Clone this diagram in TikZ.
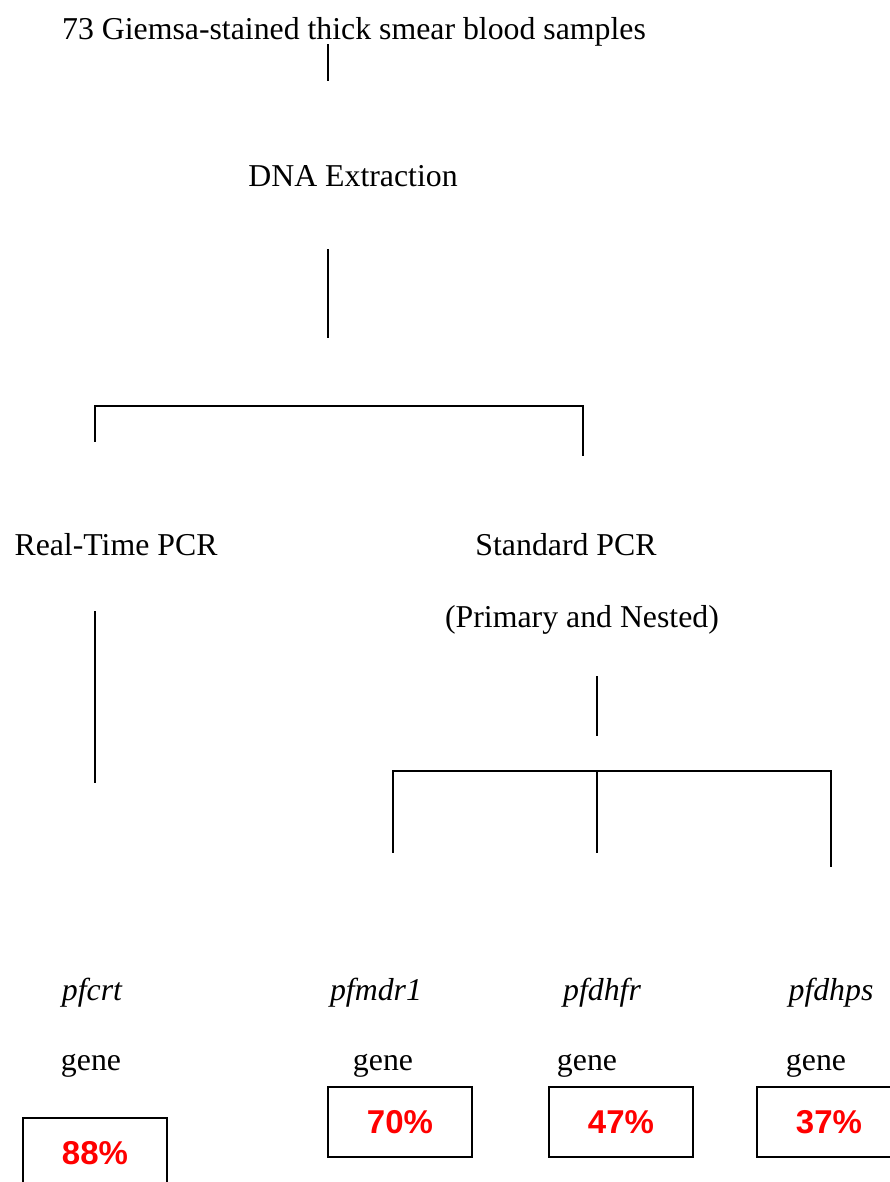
\documentclass[tikz,border=0pt]{standalone}
\usepackage{fontspec}
\setmainfont{Liberation Serif}
\newfontfamily\pctfont{Liberation Sans}
\usetikzlibrary{positioning}

\begin{document}
\begin{tikzpicture}[x=1pt, y=-1pt,
		every node/.style={font=\fontsize{31.8}{38}\selectfont, inner sep=0pt, anchor=base}, % Plain serif labels
		genename/.style={font=\fontsize{31.8}{38}\selectfont\itshape}, % Italic gene names
		pctbox/.style={draw, line width=2pt, anchor=center, minimum width=144pt, minimum height=70pt,
			text=red, font=\fontsize{33}{38}\selectfont\pctfont\bfseries}, % Result boxes
		link/.style={line width=1.8pt, line cap=rect} % Connector lines
		]
		\useasboundingbox (0,0) rectangle (890,1182);
		\clip (0,0) rectangle (890,1182);
		% Top levels
		\node (samples) at (354,40) {73 Giemsa-stained thick smear blood samples};
		\node (extract) at (353,187) {DNA Extraction};
		% Methods
		\node (rtpcr) at (116,555) {Real-Time PCR};
		\node (stdpcr) at (566,555) {Standard PCR};
		\node (nested) at (582,627) {(Primary and Nested)};
		% Genes
		\node[genename] (crt) at (92,1000) {pfcrt};
		\node[genename] (mdr) at (376,1000) {pfmdr1};
		\node[genename] (dhfr) at (602,1000) {pfdhfr};
		\node[genename] (dhps) at (831,1000) {pfdhps};
		\node (crtgene) at (91,1070) {gene};
		\node (mdrgene) at (383,1070) {gene};
		\node (dhfrgene) at (587,1070) {gene};
		\node (dhpsgene) at (816,1070) {gene};
		% Results
		\node[pctbox] (crtpct) at (95,1153) {88\%};
		\node[pctbox] (mdrpct) at (400,1122) {70\%};
		\node[pctbox] (dhfrpct) at (621,1122) {47\%};
		\node[pctbox] (dhpspct) at (829,1122) {37\%};
		% Connector ends
		\coordinate (s1) at (328,45);   \coordinate (s2) at (328,80);
		\coordinate (e1) at (328,250);  \coordinate (e2) at (328,337);
		\coordinate (bl) at (95,441);   \coordinate (br) at (583,455);
		\coordinate (blt) at (95,406);  \coordinate (brt) at (583,406);
		\coordinate (r1) at (95,612);   \coordinate (r2) at (95,782);
		\coordinate (n1) at (597,677);  \coordinate (n2) at (597,735);
		\coordinate (gl) at (393,852);  \coordinate (glt) at (393,771);
		\coordinate (gm) at (597,852);  \coordinate (gmt) at (597,771);
		\coordinate (gr) at (831,866);  \coordinate (grt) at (831,771);
		% Connectors
		\draw[link] (s1) -- (s2);
		\draw[link] (e1) -- (e2);
		\draw[link] (bl) -- (blt) -- (brt) -- (br);
		\draw[link] (r1) -- (r2);
		\draw[link] (n1) -- (n2);
		\draw[link] (gl) -- (glt) -- (grt) -- (gr);
		\draw[link] (gmt) -- (gm);
	\end{tikzpicture}
\end{document}
